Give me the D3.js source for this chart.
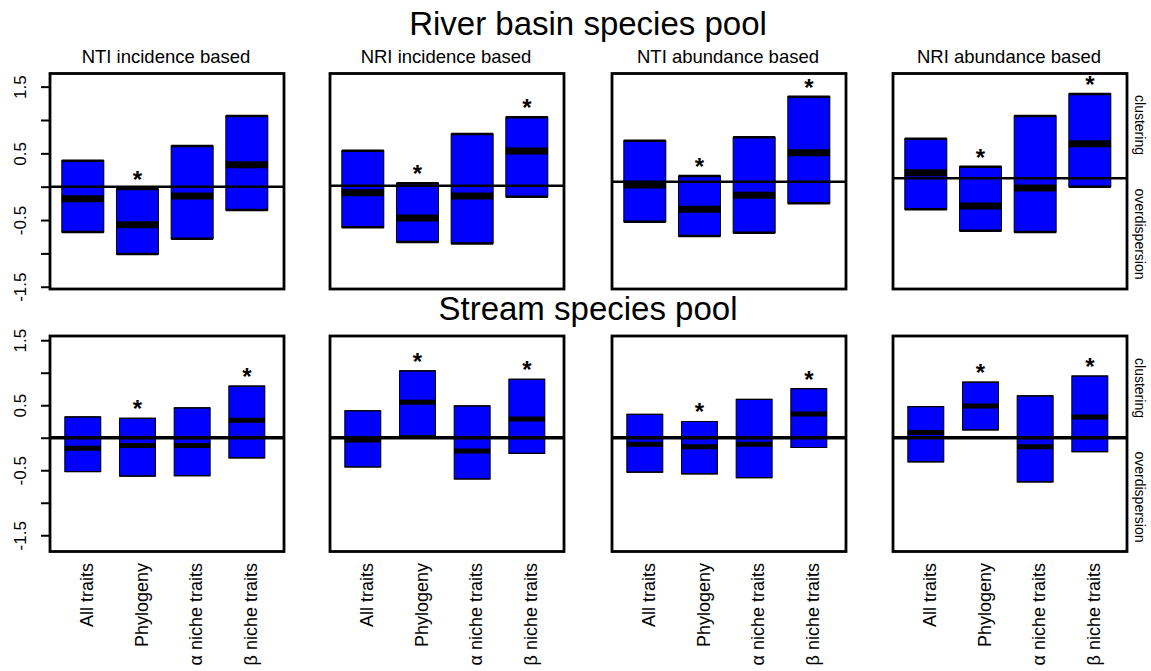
<!DOCTYPE html>
<html>
<head>
<meta charset="utf-8">
<script src="https://cdn.jsdelivr.net/npm/d3@7"></script>
<style>
  html, body { margin: 0; padding: 0; background: #fff; }
  text { font-family: "Liberation Sans", Arial, Helvetica, sans-serif; fill: #000; }
</style>
</head>
<body>
<svg id="chart" width="1151" height="671"></svg>
<script>
// ---------------- DATA ----------------
const categories = ["All traits", "Phylogeny", "\u03b1 niche traits", "\u03b2 niche traits"];
const panelTitles = ["NTI incidence based", "NRI incidence based", "NTI abundance based", "NRI abundance based"];
const rowTitles = ["River basin species pool", "Stream species pool"];
const yTickValues = [-1.5, -1, -0.5, 0, 0.5, 1, 1.5];
const yTickLabels = ["-1.5", "", "-0.5", "", "0.5", "", "1.5"];

// River basin species pool: [low, median, high] per category, per panel
const riverLow    = [[-0.68, -1.01, -0.78, -0.35], [-0.61, -0.83, -0.85, -0.15], [-0.525, -0.74, -0.69, -0.25], [-0.34, -0.66, -0.68, 0.00]];
const riverMedian = [[-0.18, -0.57, -0.14,  0.33], [-0.09, -0.47, -0.14,  0.535], [0.025, -0.34, -0.13,  0.51], [0.21, -0.29, -0.02, 0.645]];
const riverHigh   = [[ 0.39, -0.035, 0.61,  1.06], [ 0.54,  0.05,  0.79,  1.04], [0.69,  0.16,  0.74,  1.35], [0.72,  0.30,  1.06, 1.39]];
const riverSig    = [[false, true, false, false], [false, true, false, true], [false, true, false, true], [false, true, false, true]];
const riverRefLine = [0, 0.015, 0.075, 0.126];

// Stream species pool
const streamLow    = [[-0.52, -0.59, -0.585, -0.31], [-0.45, 0.03, -0.635, -0.24], [-0.53, -0.555, -0.615, -0.15], [-0.37, 0.12, -0.68, -0.215]];
const streamMedian = [[-0.16, -0.12, -0.12,  0.27], [-0.035, 0.545, -0.205, 0.29], [-0.10, -0.14, -0.10,  0.365], [0.08, 0.49, -0.14, 0.32]];
const streamHigh   = [[ 0.32,  0.30,  0.46,  0.795], [0.415, 1.03, 0.49, 0.90], [0.36, 0.25, 0.59, 0.755], [0.48, 0.855, 0.645, 0.95]];
const streamSig    = [[false, true, false, true], [false, true, false, true], [false, true, false, true], [false, true, false, true]];
const streamRefLine = [0, 0, 0, 0];

const sideLabels = ["clustering", "overdispersion"];

// ---------------- LAYOUT ----------------
const svg = d3.select("#chart");
svg.append("rect").attr("width", 1151).attr("height", 671).attr("fill", "#fff");

const colLeft = [50, 330, 612, 893];
const panelW = 234;
const rows = [
  { top: 73.5, bottom: 289, domain: [-1.534, 1.697], low: riverLow, med: riverMedian, high: riverHigh, sig: riverSig, ref: riverRefLine,
    boxW: 42, medW: 7, refW: 2.5, frameW: 2.8, titleY: 35, title: rowTitles[0] },
  { top: 336, bottom: 551.5, domain: [-1.75, 1.565], low: streamLow, med: streamMedian, high: streamHigh, sig: streamSig, ref: streamRefLine,
    boxW: 36, medW: 5, refW: 3.5, frameW: 2.8, titleY: 320, title: rowTitles[1] }
];

const x = d3.scaleLinear().domain([0.4, 4.68]).range([0, panelW]);

rows.forEach((row, ri) => {
  const y = d3.scaleLinear().domain(row.domain).range([row.bottom, row.top]);

  svg.append("text")
    .attr("x", 588).attr("y", row.titleY)
    .attr("text-anchor", "middle")
    .attr("font-size", 33)
    .text(row.title);

  colLeft.forEach((L, pi) => {
    const g = svg.append("g").attr("transform", `translate(${L},0)`);

    if (ri === 0) {
      g.append("text")
        .attr("x", panelW / 2 - 1).attr("y", 63)
        .attr("text-anchor", "middle")
        .attr("font-size", 18.5)
        .text(panelTitles[pi]);
    }

    categories.forEach((c, ci) => {
      const cx = x(ci + 1);
      const lo = row.low[pi][ci], md = row.med[pi][ci], hi = row.high[pi][ci];
      const hw = row.boxW / 2;
      g.append("rect")
        .attr("x", cx - hw).attr("width", row.boxW)
        .attr("y", y(hi)).attr("height", y(lo) - y(hi))
        .attr("fill", "#0000ff").attr("stroke", "#000").attr("stroke-width", 1);
      [hi, lo].forEach(v => {
        g.append("line")
          .attr("x1", cx - hw).attr("x2", cx + hw)
          .attr("y1", y(v)).attr("y2", y(v))
          .attr("stroke", "#000").attr("stroke-width", ri === 0 ? 2.5 : 1.2);
      });
      g.append("line")
        .attr("x1", cx - hw).attr("x2", cx + hw)
        .attr("y1", y(md)).attr("y2", y(md))
        .attr("stroke", "#000").attr("stroke-width", row.medW);
      if (row.sig[pi][ci]) {
        g.append("text")
          .attr("x", cx).attr("y", y(hi) - 1)
          .attr("text-anchor", "middle")
          .attr("font-size", 24)
          .attr("font-weight", "bold")
          .text("*");
      }
    });

    g.append("line")
      .attr("x1", 0).attr("x2", panelW)
      .attr("y1", y(row.ref[pi])).attr("y2", y(row.ref[pi]))
      .attr("stroke", "#000").attr("stroke-width", row.refW);

    g.append("rect")
      .attr("x", 0).attr("y", row.top)
      .attr("width", panelW).attr("height", row.bottom - row.top)
      .attr("fill", "none").attr("stroke", "#000").attr("stroke-width", row.frameW);

    if (pi === 0) {
      const ax = g.append("g").call(
        d3.axisLeft(y).tickValues(yTickValues).tickSize(9).tickFormat((d, i) => yTickLabels[i])
      );
      ax.select(".domain").attr("stroke-width", 2).attr("d", `M0,${y(-1.5)}V${y(1.5)}`);
      ax.selectAll(".tick line").attr("stroke-width", 2);
      ax.selectAll(".tick text")
        .attr("font-size", 17)
        .attr("font-family", "Liberation Sans, Arial, sans-serif")
        .attr("fill", "#000")
        .attr("x", 0).attr("y", 0)
        .attr("text-anchor", "middle")
        .attr("transform", "translate(-30,0) rotate(-90)")
        .attr("dy", "0.35em");
    }

    if (ri === 1) {
      categories.forEach((c, ci) => {
        const cx = x(ci + 1) + 4;
        g.append("text")
          .attr("transform", `translate(${cx},563) rotate(-90)`)
          .attr("text-anchor", "end")
          .attr("dy", "0.35em")
          .attr("font-size", 18)
          .text(c);
      });
    }

    if (pi === 3) {
      const sideY = ri === 0 ? [125, 234] : [388, 497];
      sideLabels.forEach((s, si) => {
        g.append("text")
          .attr("transform", `translate(${panelW + 13},${sideY[si]}) rotate(90)`)
          .attr("text-anchor", "middle")
          .attr("dy", "0.35em")
          .attr("font-size", 14)
          .text(s);
      });
    }
  });
});
</script>
</body>
</html>
